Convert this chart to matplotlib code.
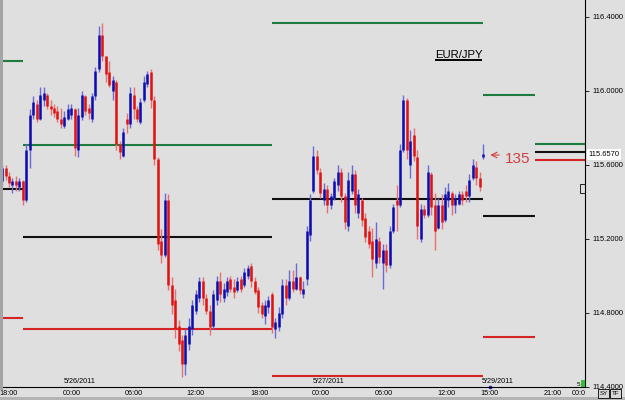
import numpy as np
import matplotlib.pyplot as plt
from matplotlib.patches import Rectangle
from matplotlib.transforms import Bbox, TransformedBbox, blended_transform_factory

plt.rcParams['font.family'] = ['Liberation Sans', 'DejaVu Sans']

# EUR/JPY 20 minute bars, 5/25 18:00 -> 5/27 afternoon, last bar = Sunday open
opens = [115.51, 115.58, 115.54, 115.49, 115.51, 115.48, 115.51, 115.41, 115.68, 115.87,
         115.93, 115.85, 115.95, 115.98, 115.92, 115.91, 115.89, 115.85, 115.81, 115.85,
         115.87, 115.90, 115.68, 115.86, 115.97, 115.91, 115.85, 115.97, 116.12, 116.30,
         116.19, 116.10, 116.00, 116.05, 115.71, 115.65, 115.85, 115.82, 115.98, 115.90,
         115.83, 115.95, 116.04, 116.10, 115.95, 115.63, 115.19, 115.11, 115.41, 114.95,
         114.87, 114.73, 114.65, 114.52, 114.63, 114.71, 114.81, 114.88, 114.97, 114.88,
         114.81, 114.73, 114.87, 114.97, 114.88, 114.91, 114.98, 114.94, 114.92, 114.98,
         114.95, 115.00, 115.05, 114.97, 114.92, 114.84, 114.78, 114.83, 114.90, 114.71,
         114.72, 114.79, 114.95, 114.88, 114.97, 114.93, 114.99, 114.90, 114.98, 115.22,
         115.46, 115.65, 115.56, 115.41, 115.47, 115.38, 115.42, 115.49, 115.56, 115.43,
         115.27, 115.46, 115.55, 115.34, 115.41, 115.31, 115.24, 115.19, 115.07, 115.19,
         115.07, 115.14, 115.06, 115.24, 115.41, 115.38, 115.68, 115.95, 115.60, 115.76,
         115.64, 115.20, 115.36, 115.33, 115.55, 115.38, 115.26, 115.38, 115.30, 115.41,
         115.45, 115.38, 115.39, 115.44, 115.46, 115.43, 115.53, 115.59, 115.53, 115.64]
highs = [115.60, 115.60, 115.56, 115.53, 115.54, 115.53, 115.52, 115.71, 115.90, 115.97,
         115.95, 116.02, 116.02, 115.99, 115.95, 115.93, 115.92, 115.91, 115.89, 115.93,
         115.93, 115.91, 115.91, 116.00, 115.98, 115.93, 115.99, 116.13, 116.35, 116.37,
         116.19, 116.16, 116.08, 116.06, 115.73, 115.80, 115.88, 116.02, 116.02, 115.92,
         115.96, 116.08, 116.11, 116.12, 115.97, 115.64, 115.25, 115.45, 115.44, 114.99,
         114.93, 114.76, 114.68, 114.71, 114.77, 114.87, 114.92, 114.99, 114.99, 114.90,
         114.84, 114.92, 115.00, 115.02, 114.96, 114.99, 115.00, 114.98, 114.99, 115.00,
         115.04, 115.06, 115.07, 114.99, 114.94, 114.86, 114.87, 114.89, 114.91, 114.77,
         114.83, 114.98, 114.98, 115.03, 115.03, 115.07, 115.00, 114.97, 115.27, 115.44,
         115.70, 115.68, 115.58, 115.50, 115.49, 115.45, 115.53, 115.60, 115.58, 115.45,
         115.56, 115.60, 115.57, 115.47, 115.42, 115.34, 115.27, 115.26, 115.29, 115.21,
         115.17, 115.17, 115.27, 115.39, 115.49, 115.71, 115.98, 115.96, 115.79, 115.80,
         115.68, 115.39, 115.38, 115.60, 115.56, 115.45, 115.42, 115.44, 115.48, 115.50,
         115.46, 115.44, 115.46, 115.46, 115.49, 115.55, 115.63, 115.62, 115.56, 115.71]
lows = [115.49, 115.52, 115.48, 115.45, 115.46, 115.46, 115.38, 115.40, 115.58, 115.85,
        115.83, 115.84, 115.92, 115.90, 115.87, 115.86, 115.83, 115.80, 115.80, 115.84,
        115.85, 115.65, 115.64, 115.84, 115.87, 115.85, 115.83, 115.95, 116.10, 116.16,
        116.05, 116.02, 115.95, 115.68, 115.63, 115.64, 115.77, 115.80, 115.85, 115.83,
        115.82, 115.94, 116.02, 115.91, 115.60, 115.14, 115.07, 115.10, 114.92, 114.79,
        114.66, 114.59, 114.45, 114.46, 114.60, 114.68, 114.79, 114.86, 114.84, 114.79,
        114.68, 114.71, 114.84, 114.86, 114.86, 114.89, 114.91, 114.88, 114.91, 114.91,
        114.94, 114.98, 114.94, 114.90, 114.80, 114.77, 114.74, 114.80, 114.69, 114.66,
        114.70, 114.77, 114.84, 114.87, 114.91, 114.92, 114.90, 114.88, 114.95, 115.19,
        115.45, 115.55, 115.42, 115.38, 115.34, 115.36, 115.41, 115.46, 115.40, 115.25,
        115.24, 115.44, 115.34, 115.31, 115.27, 115.18, 115.15, 114.99, 115.04, 115.07,
        114.93, 115.02, 115.04, 115.23, 115.24, 115.37, 115.67, 115.63, 115.53, 115.62,
        115.20, 115.18, 115.31, 115.32, 115.33, 115.14, 115.25, 115.25, 115.29, 115.37,
        115.33, 115.34, 115.38, 115.38, 115.40, 115.40, 115.52, 115.49, 115.46, 115.63]
closes = [115.58, 115.54, 115.50, 115.51, 115.49, 115.51, 115.41, 115.68, 115.87, 115.94,
          115.85, 115.98, 115.99, 115.92, 115.90, 115.88, 115.85, 115.82, 115.86, 115.90,
          115.91, 115.69, 115.87, 115.98, 115.89, 115.88, 115.97, 116.11, 116.30, 116.19,
          116.09, 116.03, 116.06, 115.71, 115.67, 115.78, 115.82, 115.99, 115.90, 115.85,
          115.94, 116.05, 116.09, 115.95, 115.63, 115.17, 115.11, 115.41, 114.95, 114.84,
          114.71, 114.63, 114.52, 114.68, 114.73, 114.84, 114.90, 114.97, 114.88, 114.81,
          114.72, 114.90, 114.97, 114.90, 114.93, 114.97, 114.93, 114.91, 114.97, 114.93,
          115.02, 115.04, 114.97, 114.91, 114.83, 114.79, 114.84, 114.87, 114.72, 114.75,
          114.80, 114.95, 114.88, 114.97, 114.93, 114.99, 114.92, 114.93, 115.24, 115.41,
          115.65, 115.57, 115.45, 115.47, 115.38, 115.43, 115.51, 115.56, 115.43, 115.29,
          115.52, 115.55, 115.38, 115.44, 115.30, 115.21, 115.17, 115.09, 115.20, 115.10,
          115.14, 115.06, 115.24, 115.37, 115.38, 115.68, 115.95, 115.68, 115.73, 115.65,
          115.27, 115.36, 115.33, 115.56, 115.37, 115.24, 115.38, 115.29, 115.44, 115.46,
          115.38, 115.42, 115.44, 115.41, 115.43, 115.52, 115.60, 115.53, 115.48, 115.657]

# pivot levels (resistance / pivot / support) per session
piv_start = [0.27, 6.05, 77.9, 138.9, 154.0]
piv_end = [6.05, 77.9, 138.9, 154.0, 168.5]
piv_high = [116.162, 115.707, 116.368, 115.978, 115.713]
piv_mid = [115.469, 115.209, 115.415, 115.324, 115.671]
piv_low = [114.771, 114.711, 114.458, 114.670, 115.626]

time_pos = [2.0, 20.2, 38.1, 56.0, 74.3, 92.2, 110.4, 128.3, 141.0, 159.2, 167.3]
time_lbl = ['18:00', '00:00', '06:00', '12:00', '18:00', '00:00', '06:00', '12:00',
            '15:00', '21:00', '00:00']
date_pos = [22.5, 94.5, 143.3]
date_lbl = ['5/26/2011', '5/27/2011', '5/29/2011']
price_ticks = [114.4, 114.8, 115.2, 115.6, 116.0, 116.4]
last_price = 115.657

bg = '#dfdfdf'
fig = plt.figure(figsize=(6.25, 4.0), dpi=100)
fig.patch.set_facecolor(bg)
ax = fig.add_axes([3 / 625, 13 / 400, 582 / 625, 387 / 400])
ax.set_facecolor(bg)
ax.set_xlim(0.27, 168.47)
ax.set_ylim(114.3973, 116.492)

# pivot lines
ax.hlines(piv_high, piv_start, piv_end, colors='#1f7a3e', lw=1.5, zorder=1)
ax.hlines(piv_mid, piv_start, piv_end, colors='#111111', lw=1.5, zorder=1)
ax.hlines(piv_low, piv_start, piv_end, colors='#d42424', lw=1.5, zorder=1)

# candles
o = np.array(opens)
c = np.array(closes)
idx = np.arange(len(o))
up = c >= o
wick_col = np.where(up, '#6a6ad8', '#e87070')
body_col = np.where(up, '#0c0cb0', '#e01212')
ax.vlines(idx, lows, highs, colors=wick_col, lw=1.0, zorder=2)
ax.vlines(idx, np.minimum(o, c), np.maximum(o, c), colors=body_col, lw=1.8, zorder=3)

for s in ['top', 'left']:
    ax.spines[s].set_visible(False)
for s in ['right', 'bottom']:
    ax.spines[s].set_color('black')
    ax.spines[s].set_linewidth(0.8)

ax.yaxis.tick_right()
ax.set_yticks(price_ticks)
ax.set_yticklabels(['%.4f' % p for p in price_ticks])
ax.tick_params(axis='y', direction='out', length=3, width=0.6, labelsize=5.4, pad=2)

ax.set_xticks(time_pos)
ax.set_xticklabels(time_lbl)
ax.tick_params(axis='x', length=0, labelsize=5.2, pad=2)
clip = TransformedBbox(Bbox([[0, 0], [585 / 625, 1]]), fig.transFigure)
last_lbl = ax.get_xticklabels()[-1]
last_lbl.set_clip_on(True)
last_lbl.set_clip_box(clip)

trans = blended_transform_factory(ax.transData, ax.transAxes)
for p, t in zip(date_pos, date_lbl):
    ax.text(p, 0.004, t, transform=trans, ha='center', va='bottom', fontsize=5.2)
ax.plot([time_pos[8]], [ax.get_ylim()[0]], marker='s', ms=2, color='#2020c0', clip_on=False)

# symbol title
ax.text(0.7826, 0.858, 'EUR/JPY', transform=ax.transAxes, ha='center', va='center', fontsize=8.2)
ax.plot([0.744, 0.821], [0.8437, 0.8437], transform=ax.transAxes, color='black', lw=1.4)

# last price box
ax.annotate('%.4f' % last_price, xy=(1, last_price), xycoords=('axes fraction', 'data'),
            xytext=(2.5, 0), textcoords='offset points', ha='left', va='center', fontsize=5.4,
            bbox=dict(boxstyle='square,pad=0.25', fc='white', ec='none'))

# spread marker
ax.annotate('', xy=(140.3, 115.653), xytext=(144.5, 115.653),
            arrowprops=dict(arrowstyle='->', color='#d04040', lw=0.8))
ax.text(149.1, 115.63, '135', ha='center', va='center', fontsize=11, color='#d04040',
        family=['Liberation Sans Narrow', 'Liberation Sans', 'DejaVu Sans'])

# window decorations
fig.add_artist(Rectangle((0, 10 / 400), 3 / 625, 390 / 400, transform=fig.transFigure,
                         fc='#a4a4a4', ec='none'))
fig.add_artist(Rectangle((0, 0), 1, 3 / 400, transform=fig.transFigure, fc='#b4b4b4', ec='none'))
fig.add_artist(Rectangle((580 / 625, 207 / 400), 5 / 625, 9 / 400, transform=fig.transFigure,
                         fc='none', ec='black', lw=0.6))
fig.add_artist(Rectangle((581 / 625, 13 / 400), 4 / 625, 7 / 400, transform=fig.transFigure,
                         fc='#30c030', ec='none'))
fig.text(578 / 625, 16 / 400, '5', fontsize=4.5, ha='center', va='center')
for k, t in enumerate(['SY', 'TF']):
    x0 = (598 + 12 * k) / 625
    fig.add_artist(Rectangle((x0, 2 / 400), 11 / 625, 9 / 400, transform=fig.transFigure,
                             fc='#d8d8d8', ec='black', lw=0.6))
    fig.text(x0 + 5.5 / 625, 6.5 / 400, t, fontsize=4.5, ha='center', va='center')

fig.savefig('out.png', dpi=100, facecolor=bg)
